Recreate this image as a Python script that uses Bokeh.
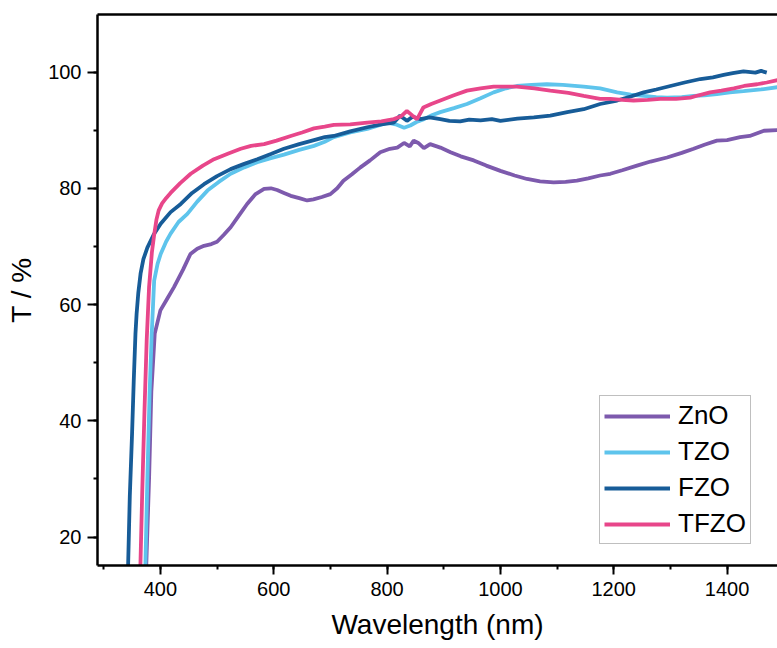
from bokeh.plotting import figure
from bokeh.models import SingleIntervalTicker, LinearAxis, FixedTicker, Range1d
from bokeh.embed import file_html
from bokeh.resources import INLINE

# ---- data ----
zno_w = [375, 380, 384, 387, 390, 400, 412, 424, 440, 453, 465, 477, 490, 500, 512, 524, 540, 553, 568, 583, 595,
         606, 618, 630, 645, 659, 670, 685, 700, 712, 723, 738, 753, 770, 788, 805, 818, 830, 840, 847, 855, 865,
         876, 885, 894, 912, 930, 953, 975, 1000, 1025, 1047, 1070, 1094, 1115, 1135, 1155, 1176, 1194, 1215,
         1241, 1265, 1294, 1320, 1341, 1360, 1382, 1400, 1423, 1440, 1465, 1489]
zno_t = [15, 30, 45, 50, 55, 59, 61, 63, 66, 68.7, 69.6, 70.1, 70.4, 70.8, 72, 73.3, 75.5, 77.3, 79, 79.9, 80,
         79.7, 79.2, 78.7, 78.3, 77.9, 78.1, 78.5, 79.0, 80, 81.3, 82.4, 83.6, 84.8, 86.2, 86.8, 87.0, 87.8, 87.2,
         88.2, 87.8, 86.9, 87.6, 87.3, 87.0, 86.2, 85.5, 84.8, 83.9, 83.0, 82.2, 81.6, 81.2, 81.0, 81.1, 81.3,
         81.7, 82.2, 82.5, 83.1, 83.9, 84.6, 85.3, 86.1, 86.8, 87.5, 88.2, 88.3, 88.8, 89.0, 89.9, 90.0]

tzo_w = [373.5, 377, 381, 384.7, 389, 395, 400.5, 410, 418, 432, 447.6, 465, 483, 503, 524, 548, 571, 595, 618,
         645, 671, 690, 706, 735, 765, 785, 800, 815, 830, 841, 852, 865, 880, 894, 918, 941, 965, 988, 1010,
         1029, 1055, 1082, 1110, 1147, 1176, 1206, 1230, 1253, 1275, 1294, 1320, 1341, 1360, 1382, 1405, 1429,
         1460, 1489]
tzo_t = [15, 30, 45, 55, 64.1, 67, 68.7, 70.8, 72.2, 74.2, 75.6, 77.7, 79.6, 81.1, 82.5, 83.6, 84.5, 85.2, 85.8,
         86.6, 87.3, 88.0, 88.8, 89.6, 90.2, 90.8, 91.3, 91.0, 90.4, 90.8, 91.4, 91.9, 92.6, 93.1, 93.8, 94.5,
         95.5, 96.5, 97.2, 97.6, 97.8, 97.9, 97.8, 97.5, 97.2, 96.5, 96.1, 95.9, 95.7, 95.6, 95.7, 95.9, 96.0,
         96.2, 96.5, 96.7, 97.0, 97.4]

fzo_w = [343, 346, 350, 353, 356, 358, 361, 365, 370, 377, 388, 400.5, 418, 436, 456, 477, 500, 524, 548, 571,
         595, 618, 645, 671, 690, 706, 735, 765, 790, 812, 823, 835, 845, 859, 875, 894, 910, 929, 945, 965, 985,
         1000, 1030, 1059, 1088, 1118, 1147, 1176, 1206, 1230, 1253, 1275, 1300, 1325, 1353, 1375, 1394, 1410,
         1429, 1450, 1460, 1470]
fzo_t = [15, 27, 37.8, 47, 55, 58.4, 62, 65.3, 67.8, 69.8, 72, 73.9, 75.9, 77.3, 79.2, 80.7, 82.1, 83.3, 84.2,
         85.0, 85.9, 86.8, 87.6, 88.3, 88.8, 89.0, 89.8, 90.5, 91.0, 91.3, 92.5, 91.6, 92.3, 91.9, 92.2, 91.9,
         91.6, 91.5, 91.8, 91.7, 91.9, 91.6, 92.0, 92.2, 92.5, 93.1, 93.6, 94.5, 95.1, 95.8, 96.5, 97.0, 97.6,
         98.2, 98.8, 99.1, 99.5, 99.8, 100.1, 99.9, 100.2, 99.9]

tfzo_w = [364.7, 368, 372, 375.8, 380, 385, 389, 393, 397, 403, 410, 418, 435, 453.5, 475, 494.7, 520, 541.8, 560,
          583, 605, 630, 650, 671, 690, 706, 735, 765, 790, 812, 825, 835, 845, 853, 864, 878, 894, 918, 941, 965,
          988, 1010, 1029, 1060, 1088, 1120, 1147, 1176, 1194, 1215, 1235, 1260, 1282, 1310, 1335, 1350, 1370,
          1390, 1412, 1430, 1453, 1470, 1489]
tfzo_t = [15, 28, 42, 53.8, 63, 69.0, 72.0, 74.6, 76.2, 77.4, 78.3, 79.2, 80.9, 82.5, 83.9, 85.0, 86.0, 86.8, 87.3,
          87.6, 88.2, 89.0, 89.6, 90.3, 90.6, 90.9, 91.0, 91.3, 91.5, 91.9, 92.4, 93.3, 92.5, 91.9, 93.9, 94.5, 95.1,
          96.0, 96.8, 97.2, 97.5, 97.5, 97.5, 97.2, 96.8, 96.4, 95.9, 95.4, 95.4, 95.2, 95.1, 95.2, 95.4, 95.4,
          95.6, 96.0, 96.5, 96.8, 97.2, 97.6, 97.9, 98.2, 98.6]

series = [
    ("ZnO", zno_w, zno_t, "#7D5AAD"),
    ("TZO", tzo_w, tzo_t, "#5EC4EC"),
    ("FZO", fzo_w, fzo_t, "#175C98"),
    ("TFZO", tfzo_w, tfzo_t, "#E8468A"),
]

FONT = "Liberation Sans"

p = figure(width=777, height=648, output_backend="svg", toolbar_location=None,
           x_range=Range1d(289, 1489), y_range=Range1d(15.1, 109.9),
           min_border_left=97, min_border_right=0, min_border_top=14, min_border_bottom=83,
           background_fill_color="white", border_fill_color="white")
p.outline_line_color = None
p.xgrid.visible = False
p.ygrid.visible = False

for name, w, t, c in series:
    p.line(w, t, line_color=c, line_width=3.8, legend_label=name)

p.xaxis.ticker = SingleIntervalTicker(interval=200, num_minor_ticks=2)
p.yaxis.ticker = SingleIntervalTicker(interval=20, num_minor_ticks=2)
p.xaxis.axis_label = "Wavelength (nm)"
p.yaxis.axis_label = "T / %"

for ax in (p.xaxis[0], p.yaxis[0]):
    ax.axis_line_width = 2.5
    ax.axis_line_color = "black"
    ax.major_tick_line_width = 2
    ax.minor_tick_line_width = 2
    ax.major_tick_in = 0
    ax.minor_tick_in = 0
    ax.major_label_text_font = FONT
    ax.major_label_text_font_size = "20px"
    ax.major_label_text_color = "black"
    ax.axis_label_text_font = FONT
    ax.axis_label_text_font_size = "28px"
    ax.axis_label_text_font_style = "normal"
    ax.axis_label_text_color = "black"

p.xaxis.major_tick_out = 9
p.xaxis.minor_tick_out = 4
p.yaxis.major_tick_out = 10
p.yaxis.minor_tick_out = 4
p.xaxis.major_label_standoff = 7
p.yaxis.major_label_standoff = 6
p.xaxis.axis_label_standoff = 10
p.yaxis.axis_label_standoff = 8

top = LinearAxis(ticker=FixedTicker(ticks=[]), axis_line_width=2.5, axis_line_color="black",
                 major_label_text_font_size="0px", major_tick_out=0, minor_tick_out=0,
                 major_tick_in=0, minor_tick_in=0)
p.add_layout(top, "above")

lg = p.legend[0]
lg.location = (502, 21)
lg.label_text_font = FONT
lg.label_text_font_size = "26px"
lg.label_text_color = "black"
lg.glyph_width = 66
lg.glyph_height = 30
lg.label_height = 30
lg.spacing = 5
lg.padding = 4
lg.margin = 0
lg.label_standoff = 8
lg.border_line_color = "#808080"
lg.border_line_width = 1
lg.background_fill_alpha = 1

open("out.html", "w").write(file_html(p, INLINE))
